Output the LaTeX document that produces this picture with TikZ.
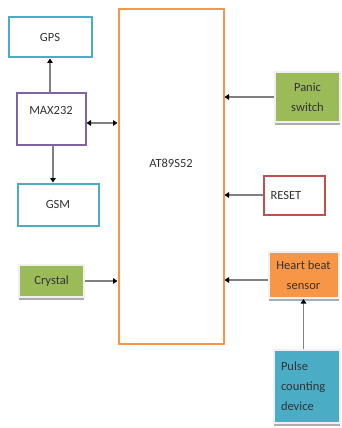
\documentclass[tikz,border=0pt]{standalone}
\usepackage{fontspec}
\setmainfont{Carlito}
\usepackage{xcolor}
\usepackage{tikz}
\usetikzlibrary{arrows.meta, shadows}

\definecolor{officecyan}{HTML}{4BACC6}
\definecolor{officepurple}{HTML}{8064A2}
\definecolor{officeorange}{HTML}{F79646}
\definecolor{officegreen}{HTML}{9BBB59}
\definecolor{officered}{HTML}{C0504D}

\begin{document}
\begin{tikzpicture}[
  x=1pt, y=-1pt,
  % --- Box styles ---
  basebox/.style={
    rectangle, line width=2pt, align=center,
    font=\fontsize{12.5}{20}\selectfont, text=black!80,
    inner sep=3pt
  },
  cyanbox/.style={basebox, draw=officecyan, fill=white},
  purplebox/.style={basebox, draw=officepurple, fill=white},
  mcubox/.style={basebox, draw=officeorange, fill=white},
  redbox/.style={basebox, draw=officered, fill=white},
  solidbox/.style={basebox, draw=black!6, line width=2pt,
    drop shadow={shadow xshift=0pt, shadow yshift=-3pt,
      fill=black!40, opacity=0.8}},
  % --- Arrows ---
  flow/.style={-{Triangle[color=black, width=5.5pt, length=4.5pt]},
    line width=1.6pt, draw=black!50},
  bothflow/.style={{Triangle[color=black, width=5.5pt, length=4.5pt]}-{Triangle[color=black, width=5.5pt, length=4.5pt]},
    line width=1.6pt, draw=black!50},
]
\useasboundingbox (0,0) rectangle (342,428);

% ===================== LEFT SIDE =====================
\node[cyanbox, minimum width=83pt, minimum height=40pt] (gps) at (50,37.5) {GPS};

\node[purplebox, minimum width=69pt, text height=18pt, text depth=28pt]
  (max) at (51,119) {MAX232};

\node[cyanbox, minimum width=81pt, minimum height=42pt] (gsm) at (58,204.5) {GSM};

\node[solidbox, fill=officegreen, minimum width=65pt, minimum height=32pt]
  (crystal) at (51.5,281) {Crystal};

% ===================== CONTROLLER =====================
\node[mcubox, minimum width=105pt, text height=155pt, text depth=174pt]
  (mcu) at (171,176.5) {AT89S52};

% ===================== RIGHT SIDE =====================
\node[solidbox, fill=officegreen, minimum width=65pt, minimum height=50pt]
  (panic) at (307.5,97) {Panic\\switch};

\node[redbox, text width=47pt, inner xsep=7pt, align=left, minimum height=39pt]
  (reset) at (294,195) {RESET};

\node[solidbox, fill=officeorange, minimum width=70pt, minimum height=46pt]
  (heart) at (303.5,275) {Heart beat\\sensor};

\node[solidbox, fill=officecyan, text width=52pt, inner xsep=7pt, align=left,
  minimum height=73pt]
  (pulse) at (307,386.5) {Pulse\\counting\\device};

% ================ CONNECTIONS ================
\draw[flow] (max.north -| gps.south) -- (gps.south);
\draw[flow] ([xshift=2pt]max.south) -- ([xshift=2pt]max.south |- gsm.north);
\draw[bothflow] ([yshift=-4pt]max.east) -- ([yshift=-4pt]max.east -| mcu.west);
\draw[flow] (crystal.east) -- (crystal.east -| mcu.west);

\draw[flow] (panic.west) -- (panic.west -| mcu.east);
\draw[flow] (reset.west) -- (reset.west -| mcu.east);
\draw[flow] ([yshift=-5pt]heart.west) -- ([yshift=-5pt]heart.west -| mcu.east);
\draw[flow] (heart.south |- pulse.north) -- (heart.south);

\end{tikzpicture}
\end{document}
